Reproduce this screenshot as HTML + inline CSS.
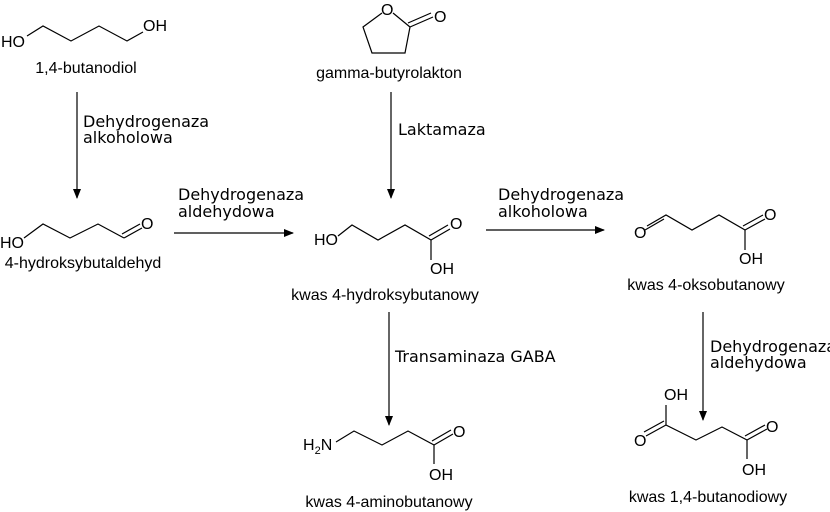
<!DOCTYPE html>
<html><head><meta charset="utf-8"><style>
html,body{margin:0;padding:0;background:#fff;}
svg{display:block;}
.a{font-family:"Liberation Sans",sans-serif;font-size:16px;fill:#000;}
.n{font-family:"Liberation Sans",sans-serif;font-size:16px;fill:#000;text-anchor:middle;}
.e{font-family:"DejaVu Sans",sans-serif;font-size:16px;fill:#000;}
path,line{stroke:#000;stroke-width:1.2;fill:none;}
</style></head><body>
<svg width="830" height="512" viewBox="0 0 830 512">
<defs><marker id="ar" markerWidth="10" markerHeight="8" refX="9" refY="4" orient="auto" markerUnits="userSpaceOnUse"><path d="M0,0 L10,4 L0,8 z" style="fill:#000;stroke:none"/></marker></defs>

<text class="a" x="1" y="47">HO</text>
<path d="M27,36 L43,26 L71,41 L99,26 L127,41 L143,32"/>
<text class="a" x="143" y="31">OH</text>
<text class="n" x="86" y="73">1,4-butanodiol</text>

<line x1="77" y1="92" x2="77" y2="198" marker-end="url(#ar)"/>
<text class="e" x="83" y="127">Dehydrogenaza</text>
<text class="e" x="83" y="143">alkoholowa</text>

<text class="a" x="0" y="248">HO</text>
<path d="M24,238 L43,224 L70,238 L98,224 L124,238"/>
<path d="M124,238 L142,228 M122,234 L140,224"/>
<text class="a" x="141" y="229">O</text>
<text class="n" x="83" y="268">4-hydroksybutaldehyd</text>

<line x1="174" y1="233" x2="293" y2="233" marker-end="url(#ar)"/>
<text class="e" x="178" y="200">Dehydrogenaza</text>
<text class="e" x="178" y="217">aldehydowa</text>

<text class="a" x="381" y="15">O</text>
<path d="M382,13 L363,27 L372,53 L405,53 L410,27 L393,13"/>
<path d="M410,27 L433,17 M408,23 L431,13"/>
<text class="a" x="434" y="22">O</text>
<text class="n" x="389" y="78">gamma-butyrolakton</text>

<line x1="391" y1="92" x2="391" y2="198" marker-end="url(#ar)"/>
<text class="e" x="398" y="135">Laktamaza</text>

<text class="a" x="314" y="245">HO</text>
<path d="M338,236 L352,225 L378,240 L405,225 L431,240 L431,260"/>
<path d="M431,240 L450,229 M429,236 L448,225"/>
<text class="a" x="450" y="229">O</text>
<text class="a" x="430" y="274">OH</text>
<text class="n" x="385" y="300">kwas 4-hydroksybutanowy</text>

<line x1="486" y1="230" x2="604" y2="230" marker-end="url(#ar)"/>
<text class="e" x="498" y="200">Dehydrogenaza</text>
<text class="e" x="498" y="217">alkoholowa</text>

<text class="a" x="634" y="238">O</text>
<path d="M647,226 L666,215 L692,230 L719,215 L745,230 L745,250"/>
<path d="M645,230 L664,219"/>
<path d="M745,230 L765,219 M743,226 L763,215"/>
<text class="a" x="764" y="220">O</text>
<text class="a" x="739" y="264">OH</text>
<text class="n" x="706" y="290">kwas 4-oksobutanowy</text>

<line x1="703" y1="312" x2="703" y2="420" marker-end="url(#ar)"/>
<text class="e" x="710" y="352">Dehydrogenaza</text>
<text class="e" x="710" y="368">aldehydowa</text>

<line x1="389" y1="312" x2="389" y2="425" marker-end="url(#ar)"/>
<text class="e" x="395" y="362">Transaminaza GABA</text>

<text class="a" x="303" y="450">H<tspan font-size="11" dy="4">2</tspan><tspan dy="-4">N</tspan></text>
<path d="M336,442 L354,431 L382,445 L408,431 L434,445 L434,464"/>
<path d="M434,445 L453,434 M432,441 L451,430"/>
<text class="a" x="453" y="437">O</text>
<text class="a" x="429" y="480">OH</text>
<text class="n" x="389" y="507">kwas 4-aminobutanowy</text>

<text class="a" x="664" y="400">OH</text>
<path d="M666,405 L666,425 L696,440 L722,427 L747,440 L747,459"/>
<path d="M666,425 L646,436 M664,421 L644,432"/>
<text class="a" x="634" y="446">O</text>
<path d="M747,440 L767,429 M745,436 L765,425"/>
<text class="a" x="766" y="432">O</text>
<text class="a" x="742" y="475">OH</text>
<text class="n" x="708" y="502">kwas 1,4-butanodiowy</text>
</svg>
</body></html>
